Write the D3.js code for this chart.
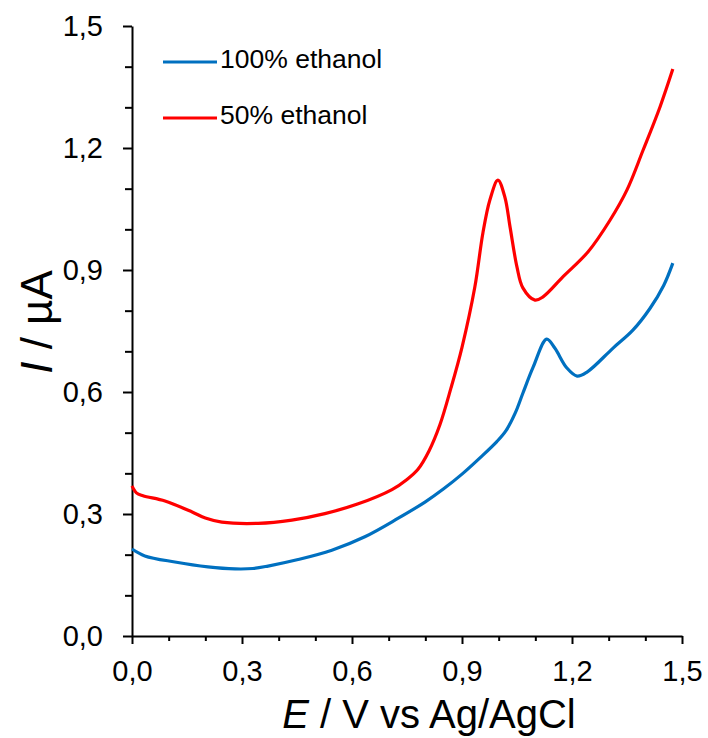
<!DOCTYPE html>
<html>
<head>
<meta charset="utf-8">
<script src="https://cdn.jsdelivr.net/npm/d3@7"></script>
<style>
  body { margin: 0; background: #fff; }
  text { font-family: "Liberation Sans", Arial, sans-serif; fill: #000; }
</style>
</head>
<body>
<div class="chart"></div>
<script>
// 100% ethanol (blue)
const ePure = [0, 0.035, 0.117, 0.207, 0.281, 0.33, 0.371, 0.453, 0.545, 0.635, 0.725, 0.8, 0.85, 0.9, 0.949, 0.995, 1.02, 1.045, 1.066, 1.094, 1.131, 1.153, 1.186, 1.214, 1.241, 1.312, 1.366, 1.413, 1.45, 1.475];
const iPure = [0.214, 0.197, 0.182, 0.170, 0.165, 0.166, 0.172, 0.188, 0.211, 0.244, 0.289, 0.330, 0.362, 0.398, 0.438, 0.478, 0.505, 0.548, 0.597, 0.661, 0.730, 0.708, 0.659, 0.639, 0.649, 0.708, 0.752, 0.806, 0.862, 0.917];
// 50% ethanol (red)
const eHalf = [0, 0.012, 0.03, 0.09, 0.164, 0.2, 0.245, 0.344, 0.436, 0.526, 0.617, 0.709, 0.75, 0.78, 0.81, 0.84, 0.87, 0.9, 0.935, 0.957, 0.976, 0.998, 1.017, 1.031, 1.05, 1.066, 1.099, 1.121, 1.175, 1.244, 1.304, 1.35, 1.394, 1.44, 1.475];
const iHalf = [0.369, 0.352, 0.345, 0.332, 0.305, 0.290, 0.280, 0.277, 0.285, 0.301, 0.325, 0.360, 0.385, 0.41, 0.455, 0.52, 0.61, 0.71, 0.858, 0.991, 1.072, 1.121, 1.079, 1.006, 0.907, 0.856, 0.826, 0.834, 0.883, 0.945, 1.023, 1.097, 1.195, 1.301, 1.394];

const seriesNames = ["100% ethanol", "50% ethanol"];
const seriesColors = ["#0070C0", "#FF0000"];
const majorTicks = [0, 0.3, 0.6, 0.9, 1.2, 1.5];
const minorTicks = [0.1, 0.2, 0.4, 0.5, 0.7, 0.8, 1.0, 1.1, 1.3, 1.4];

const w = 708;
const h = 738;
const padLeft = 132, padRight = 682, padTop = 26, padBottom = 636;

const svg = d3.select(".chart").append("svg")
    .attr("width", w)
    .attr("height", h);

const xScale = d3.scaleLinear().domain([0, 1.5]).range([padLeft, padRight]);
const yScale = d3.scaleLinear().domain([0, 1.5]).range([padBottom, padTop]);

const fmt = d3.formatLocale({decimal: ",", thousands: ".", grouping: [3], currency: ["", ""]}).format(".1f");

// minor ticks
svg.append("g")
   .attr("transform", "translate(0," + padBottom + ")")
   .call(d3.axisBottom(xScale).tickValues(minorTicks).tickSize(5).tickFormat(""))
   .call(g => g.select(".domain").remove());
svg.append("g")
   .attr("transform", "translate(" + padLeft + ",0)")
   .call(d3.axisLeft(yScale).tickValues(minorTicks).tickSize(7).tickFormat(""))
   .call(g => g.select(".domain").remove());

const xAxis = svg.append("g")
   .attr("transform", "translate(0," + padBottom + ")")
   .call(d3.axisBottom(xScale).tickValues(majorTicks).tickSize(8).tickSizeOuter(0).tickPadding(16).tickFormat(fmt));
xAxis.selectAll("text").style("font-size", "29px").attr("dy", "0.71em");

const yAxis = svg.append("g")
   .attr("transform", "translate(" + padLeft + ",0)")
   .call(d3.axisLeft(yScale).tickValues(majorTicks).tickSize(9).tickSizeOuter(0).tickPadding(20).tickFormat(fmt));
yAxis.selectAll("text").style("font-size", "29px");

svg.selectAll(".domain, .tick line").attr("stroke", "#000").attr("stroke-width", 2);

// lines
const line = d3.line()
    .x(d => xScale(d[0]))
    .y(d => yScale(d[1]))
    .curve(d3.curveCatmullRom.alpha(0.5));

const series = [d3.zip(ePure, iPure), d3.zip(eHalf, iHalf)];
series.forEach((s, k) => {
    svg.append("path")
       .datum(s)
       .attr("fill", "none")
       .attr("stroke", seriesColors[k])
       .attr("stroke-width", 3.2)
       .attr("stroke-linejoin", "round")
       .attr("d", line);
});

// legend
const legend = svg.append("g");
seriesNames.forEach((name, k) => {
    const ly = 62 + k * 56;
    legend.append("line")
          .attr("x1", 163).attr("x2", 217)
          .attr("y1", ly).attr("y2", ly)
          .attr("stroke", seriesColors[k])
          .attr("stroke-width", 3.2);
    legend.append("text")
          .attr("x", 220).attr("y", ly + 6)
          .style("font-size", "26.5px")
          .text(name);
});

// axis titles
const xt = svg.append("text")
   .attr("x", (275 + 583) / 2)
   .attr("y", 728)
   .attr("text-anchor", "middle")
   .style("font-size", "40px");
xt.append("tspan").style("font-style", "italic").text("E");
xt.append("tspan").text(" / V vs Ag/AgCl");

const yt = svg.append("text")
   .attr("transform", "translate(52,322) rotate(-90)")
   .attr("text-anchor", "middle")
   .style("font-size", "44px");
yt.append("tspan").style("font-style", "italic").text("I");
yt.append("tspan").text(" / µA");
</script>
</body>
</html>
